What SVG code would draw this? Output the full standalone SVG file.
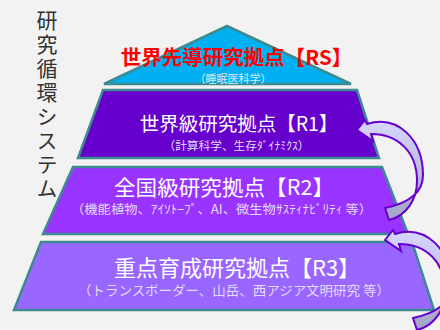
<svg xmlns="http://www.w3.org/2000/svg" width="440" height="330" viewBox="0 0 440 330">
<defs>
<style>
.tier{stroke:#3d8a92;stroke-width:2.5;stroke-linejoin:miter}
.jp{font-family:"Noto Sans CJK JP","Noto Sans",sans-serif;text-anchor:middle}
.title{fill:#ffffff}
.sub{fill:#e4dcff}
.arrow{stroke:#6600cc;stroke-width:2;stroke-linejoin:miter;fill:url(#ag)}
</style>
<linearGradient id="ag" x1="0" y1="0" x2="0" y2="1">
<stop offset="0" stop-color="#d6d6ff"/>
<stop offset="1" stop-color="#a4a4c8"/>
</linearGradient>
<path id="carrow" d="M357,130 L365,120 L367,124 C398,114 423,140 423,175 C423,193 409,203 385,208 L389,220 C406,216 417,200 417,181 C417,152 398,134 371,134 L373,141 Z"/>
</defs>
<rect x="0" y="0" width="440" height="330" fill="#f2f2f2"/>

<g id="side-label">
<text x="47" y="10" font-family="'Noto Sans CJK JP','Noto Sans',sans-serif" font-size="21" fill="#333333" style="writing-mode:vertical-rl" letter-spacing="3">研究循環システム</text>
</g>

<g id="tier-rs">
<polygon class="tier" points="227,26 351,84 104,84" fill="#00b0f0"/>
<text class="jp" x="236.5" y="65" font-size="20.5" font-weight="bold" fill="#ff0000">世界先導研究拠点【RS】</text>
<text class="jp" x="233" y="82.5" font-size="11" fill="#dce8f5">（睡眠医科学）</text>
</g>

<g id="tier-r1">
<polygon class="tier" points="103,90 357,90 379,158 78,158" fill="#6600cc"/>
<text class="jp title" x="239" y="131" font-size="19.5">世界級研究拠点【R1】</text>
<text class="jp sub" x="236.5" y="150" font-size="11.5" textLength="146" lengthAdjust="spacingAndGlyphs">（計算科学、生存ﾀﾞｲﾅﾐｸｽ）</text>
</g>

<g id="tier-r2">
<polygon class="tier" points="73,167 382,167 408,234 43,234" fill="#9933ff"/>
<text class="jp title" x="224" y="194.5" font-size="21" textLength="220" lengthAdjust="spacingAndGlyphs">全国級研究拠点【R2】</text>
<text class="jp sub" x="221.5" y="213.5" font-size="12.5" textLength="301" lengthAdjust="spacingAndGlyphs">（機能植物、ｱｲｿﾄｰﾌﾟ、AI、微生物ｻｽﾃｨﾅﾋﾞﾘﾃｨ 等）</text>
</g>

<g id="tier-r3">
<polygon class="tier" points="41,242 412,242 434,310 14,310" fill="#9966ff"/>
<text class="jp title" x="237" y="275.5" font-size="22">重点育成研究拠点【R3】</text>
<text class="jp sub" x="234" y="295" font-size="13" textLength="312" lengthAdjust="spacingAndGlyphs">（トランスボーダー、山岳、西アジア文明研究 等）</text>
</g>

<g id="connectors">
<use href="#carrow" class="arrow"/>
<use href="#carrow" class="arrow" transform="translate(28,110)"/>
</g>
</svg>
